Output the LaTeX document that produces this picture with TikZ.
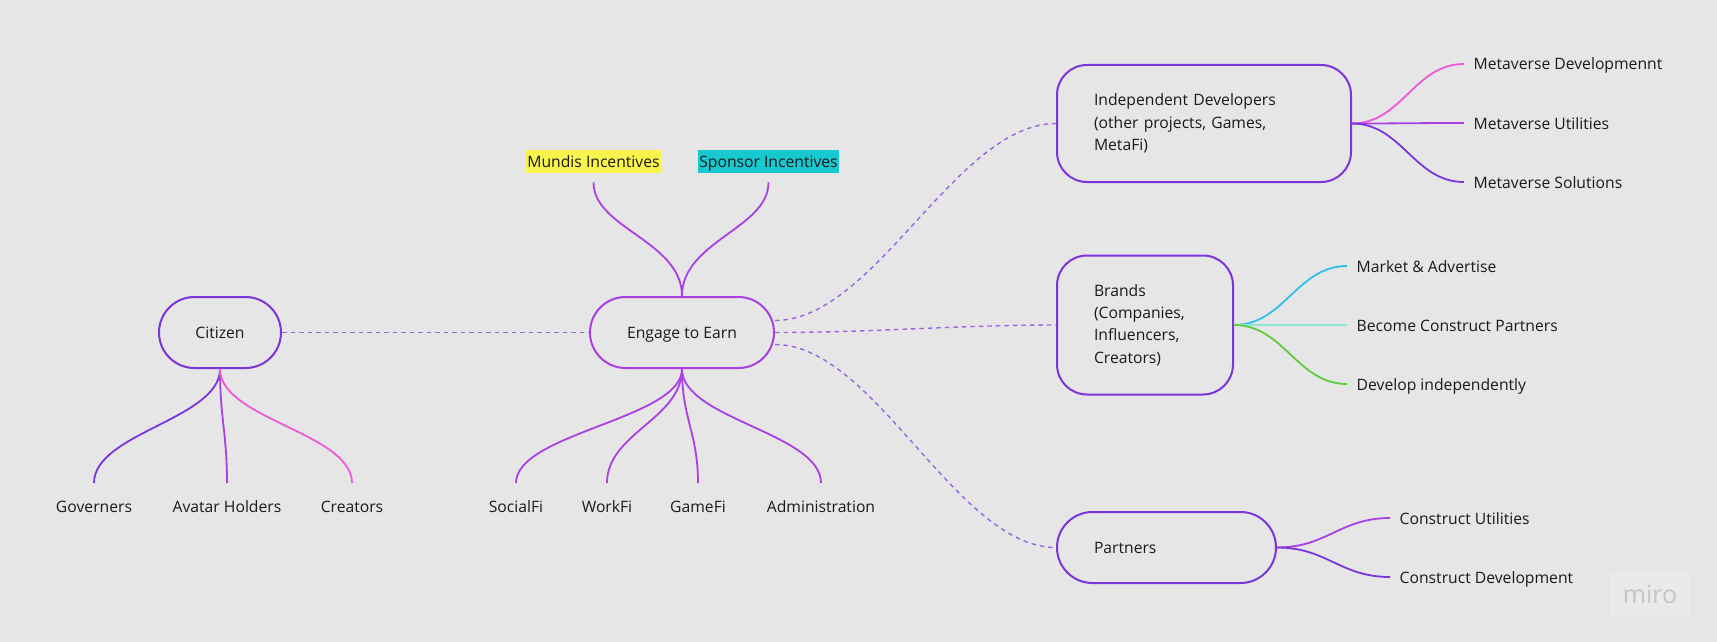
\documentclass[tikz,border=0pt]{standalone}
\usepackage{fontspec}
\setmainfont{Open Sans}
\usepackage{tikz}
\usetikzlibrary{calc}
\definecolor{cBg}{HTML}{E6E6E6}
\definecolor{cTxt}{HTML}{1A1A1A}
\definecolor{cViolet}{HTML}{7B35DB}
\definecolor{cPurple}{HTML}{AA40E4}
\definecolor{cPink}{HTML}{F058DA}
\definecolor{cCyan}{HTML}{2EC0E8}
\definecolor{cMint}{HTML}{90E4D6}
\definecolor{cGreen}{HTML}{5FCB3F}
\definecolor{cYellow}{HTML}{F9F44B}
\definecolor{cTeal}{HTML}{17C8CF}
\definecolor{cLink}{HTML}{9A66E4}
\definecolor{cMiro}{HTML}{C4C4CA}
\definecolor{cMiroBg}{HTML}{EAEAEA}
\tikzset{
  every node/.style={font=\fontsize{15.7}{22.3}\selectfont, text=cTxt},
  pill/.style={draw=cViolet, line width=2pt, minimum height=71pt, rounded corners=35.5pt, text height=12pt, text depth=0.5pt},
  card/.style={draw=cViolet, line width=2pt, rounded corners=30pt, align=left, inner xsep=37pt},
  lbldown/.style={anchor=north, inner ysep=17pt, text height=12pt, text depth=4pt},
  lblright/.style={anchor=west, inner xsep=9.5pt, text height=14pt, text depth=2pt},
  tag/.style={inner xsep=1.5pt, inner ysep=3.5pt, text height=13.8pt, text depth=2.7pt},
  twig/.style={line width=1.8pt},
  link/.style={draw=cLink, line width=1.4pt, dash pattern=on 4.5pt off 4pt},
}

\begin{document}
\begin{tikzpicture}[x=1pt,y=-1pt]
\fill[cBg] (0,0) rectangle (1717,642);
% main nodes
\node[pill, minimum width=122pt] (citizen) at (220,332.5) {Citizen};
\node[pill, draw=cPurple, minimum width=184pt] (engage) at (682,332.5) {Engage to Earn};
\node[card, text width=220pt, minimum height=117pt] (devs) at (1204,123.5) {Independent Developers\\(other projects, Games,\\MetaFi)};
\node[card, text width=102pt, minimum height=139pt] (brands) at (1145,325) {Brands\\(Companies,\\Influencers,\\Creators)};
\node[card, text width=145pt, minimum height=71pt, rounded corners=35.5pt, text height=12pt, text depth=0.5pt] (partners) at (1166.5,547.5) {Partners};
% incentives
\node[tag, fill=cYellow] (mundis) at (593.5,161.5) {Mundis Incentives};
\node[tag, fill=cTeal] (sponsor) at (768.5,161.5) {Sponsor Incentives};
\foreach \nm in {mundis,sponsor}
  \draw[twig, cPurple, shorten >=9pt] (engage.north) .. controls +(0,-55) and +(0,55) .. (\nm.south);
% citizen
\foreach \nm/\x/\col/\txt in {gov/94/cViolet/Governers, ava/227/cPurple/Avatar Holders, cre/352/cPink/Creators} {
  \node[lbldown] (\nm) at (\x,483) {\txt};
  \draw[twig, \col] (citizen.south) .. controls +(0,50) and +(0,-50) .. (\nm.north);
}
% engage to earn
\foreach \nm/\x/\txt in {social/516/SocialFi, work/607/WorkFi, game/698/GameFi, admin/821/Administration} {
  \node[lbldown] (\nm) at (\x,483) {\txt};
  \draw[twig, cPurple] (engage.south) .. controls +(0,50) and +(0,-50) .. (\nm.north);
}
% right side
\foreach \nm/\y/\col/\txt in {mdev/64/cPink/Metaverse Developmennt, mutil/123/cPurple/Metaverse Utilities, msol/182/cViolet/Metaverse Solutions} {
  \node[lblright] (\nm) at (1464,\y) {\txt};
  \draw[twig, \col] (devs.east) .. controls +(50,0) and +(-50,0) .. (\nm.west);
}
\foreach \nm/\y/\col/\txt in {mkt/266/cCyan/Market \& Advertise, become/325/cMint/Become Construct Partners, devind/384/cGreen/Develop independently} {
  \node[lblright] (\nm) at (1347,\y) {\txt};
  \draw[twig, \col] (brands.east) .. controls +(50,0) and +(-50,0) .. (\nm.west);
}
\foreach \nm/\y/\col/\txt in {cutil/518/cPurple/Construct Utilities, cdev/577/cViolet/Construct Development} {
  \node[lblright] (\nm) at (1390,\y) {\txt};
  \draw[twig, \col] (partners.east) .. controls +(50,0) and +(-50,0) .. (\nm.west);
}
% dashed links
\draw[link] (citizen.east) -- (engage.west);
\draw[link] ([yshift=12pt]engage.east) .. controls +(100,0) and +(-100,0) .. (devs.west);
\draw[link] (engage.east) .. controls +(100,0) and +(-100,0) .. (brands.west);
\draw[link] ([yshift=-12pt]engage.east) .. controls +(100,0) and +(-100,0) .. (partners.west);
\node[fill=cMiroBg, text=cMiro, font=\fontsize{25}{25}\selectfont, minimum width=80pt, minimum height=43pt, text height=19pt, text depth=0pt] (miro) at (1650,593.5) {miro};
\end{tikzpicture}
\end{document}
